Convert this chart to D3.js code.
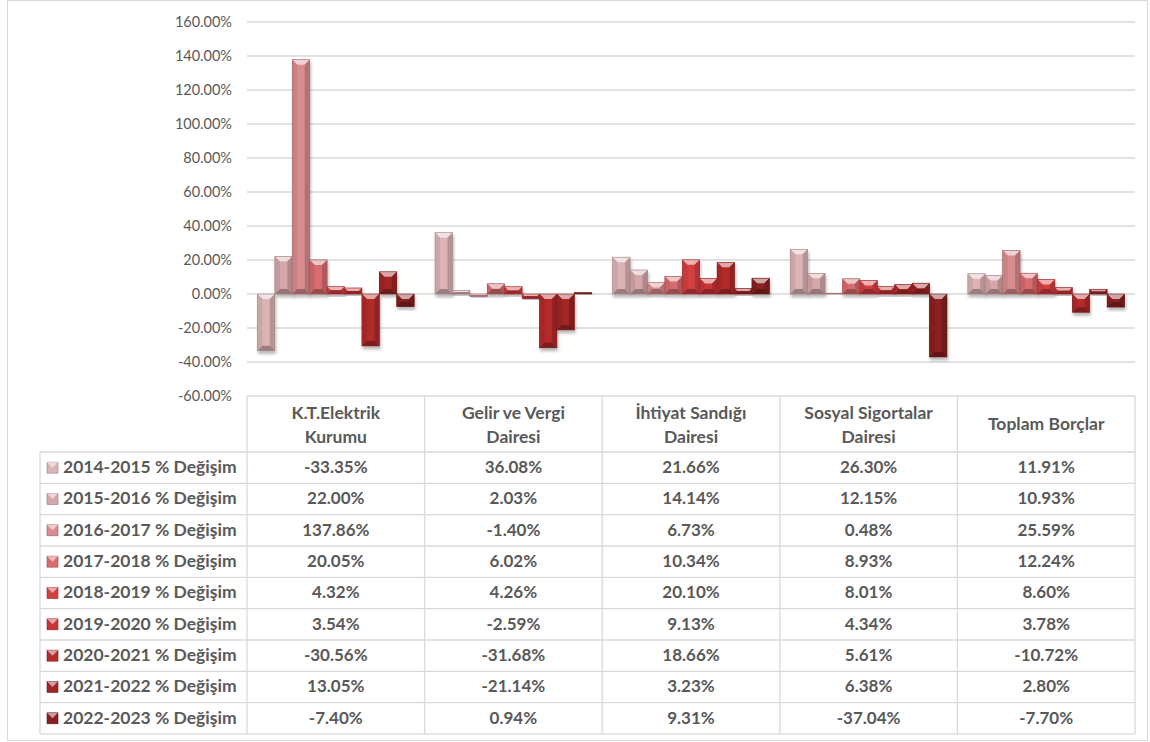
<!DOCTYPE html>
<html>
<head>
<meta charset="utf-8">
<script src="https://cdn.jsdelivr.net/npm/d3@7"></script>
<style>
  body { margin: 0; background: #fff; }
  svg text { font-family: Lato, "Open Sans", sans-serif; fill: #595959; }
</style>
</head>
<body>
<div id="chart"></div>
<script>
const categories = ["K.T.Elektrik Kurumu", "Gelir ve Vergi Dairesi", "İhtiyat Sandığı Dairesi", "Sosyal Sigortalar Dairesi", "Toplam Borçlar"]
const headerLines = [["K.T.Elektrik", "Kurumu"], ["Gelir ve Vergi", "Dairesi"], ["İhtiyat Sandığı", "Dairesi"], ["Sosyal Sigortalar", "Dairesi"], ["Toplam Borçlar"]]
const seriesNames = ["2014-2015 % Değişim", "2015-2016 % Değişim", "2016-2017 % Değişim", "2017-2018 % Değişim", "2018-2019 % Değişim", "2019-2020 % Değişim", "2020-2021 % Değişim", "2021-2022 % Değişim", "2022-2023 % Değişim"]
const seriesColors = ["#dcb4b6", "#d6a7aa", "#d98c90", "#d86c6f", "#d43f40", "#c93435", "#b32b2b", "#a22525", "#8a2020"]

// values per series, one per category (percent)
const v2015 = [-33.35, 36.08, 21.66, 26.30, 11.91]
const v2016 = [22.00, 2.03, 14.14, 12.15, 10.93]
const v2017 = [137.86, -1.40, 6.73, 0.48, 25.59]
const v2018 = [20.05, 6.02, 10.34, 8.93, 12.24]
const v2019 = [4.32, 4.26, 20.10, 8.01, 8.60]
const v2020 = [3.54, -2.59, 9.13, 4.34, 3.78]
const v2021 = [-30.56, -31.68, 18.66, 5.61, -10.72]
const v2022 = [13.05, -21.14, 3.23, 6.38, 2.80]
const v2023 = [-7.40, 0.94, 9.31, -37.04, -7.70]
const seriesValues = [v2015, v2016, v2017, v2018, v2019, v2020, v2021, v2022, v2023]
const yTicks = [-60, -40, -20, 0, 20, 40, 60, 80, 100, 120, 140, 160]

const W = 1150, H = 742
const plotLeft = 247, plotRight = 1135, plotTop = 22, plotBottom = 396
const tableLeft = 40, headerBottom = 452, rowH = 31.33

const pct = v => d3.format(".2f")(v).replace("−", "-") + "%"

const svg = d3.select("#chart").append("svg")
  .attr("width", W).attr("height", H)

const defs = svg.append("defs")
defs.append("filter").attr("id", "shadow")
  .attr("x", "-30%").attr("y", "-30%").attr("width", "160%").attr("height", "160%")
  .append("feDropShadow")
  .attr("dx", 1).attr("dy", 3).attr("stdDeviation", 1.6)
  .attr("flood-color", "#000").attr("flood-opacity", 0.28)

// outer border
svg.append("rect")
  .attr("x", 7.5).attr("y", 0.5).attr("width", 1140).attr("height", 740)
  .attr("fill", "none").attr("stroke", "#d9d9d9").attr("stroke-width", 1)

const x0 = d3.scaleBand().domain(categories).range([plotLeft, plotRight]).padding(0)
const x1 = d3.scaleBand().domain(d3.range(seriesNames.length))
  .range([0, x0.bandwidth()]).paddingInner(0).paddingOuter(0.6)
const y = d3.scaleLinear().domain([-60, 160]).range([plotBottom, plotTop])

// gridlines
svg.append("g").selectAll("line")
  .data(yTicks)
  .join("line")
  .attr("x1", plotLeft).attr("x2", plotRight)
  .attr("y1", d => y(d)).attr("y2", d => y(d))
  .attr("stroke", "#d9d9d9").attr("stroke-width", 1.3)

// y axis labels
svg.append("g").selectAll("text")
  .data(yTicks)
  .join("text")
  .attr("x", 232).attr("y", d => y(d) + 5)
  .attr("text-anchor", "end")
  .attr("font-size", 14.5)
  .text(pct)

// bars with bevel
const bars = []
seriesValues.forEach((vals, s) => vals.forEach((v, c) => bars.push({ s, c, v })))

const shade = (col, k) => k > 0 ? d3.interpolateRgb(col, "#fff")(k) : d3.interpolateRgb(col, "#000")(-k)
const poly = pts => pts.map(p => p.join(",")).join(" ")

svg.append("g").selectAll("g")
  .data(bars)
  .join("g")
  .attr("filter", "url(#shadow)")
  .each(function (d) {
    const g = d3.select(this)
    const bx = x0(categories[d.c]) + x1(d.s)
    const w = x1.bandwidth()
    const yT = y(Math.max(0, d.v)), yB = y(Math.min(0, d.v))
    const h = Math.max(yB - yT, 0.8)
    const col = seriesColors[d.s]
    const dd = Math.min(5, w / 2, h / 2)
    g.append("rect").attr("x", bx).attr("y", yT).attr("width", w).attr("height", h).attr("fill", col)
    // top facet
    g.append("polygon").attr("points", poly([[bx, yT], [bx + w, yT], [bx + w - dd, yT + dd], [bx + dd, yT + dd]]))
      .attr("fill", shade(col, 0.6))
    // left facet
    g.append("polygon").attr("points", poly([[bx, yT], [bx + dd, yT + dd], [bx + dd, yT + h - dd], [bx, yT + h]]))
      .attr("fill", shade(col, -0.08))
    // right facet
    g.append("polygon").attr("points", poly([[bx + w, yT], [bx + w - dd, yT + dd], [bx + w - dd, yT + h - dd], [bx + w, yT + h]]))
      .attr("fill", shade(col, -0.18))
    // bottom facet
    g.append("polygon").attr("points", poly([[bx, yT + h], [bx + w, yT + h], [bx + w - dd, yT + h - dd], [bx + dd, yT + h - dd]]))
      .attr("fill", shade(col, -0.3))
    g.append("rect").attr("x", bx).attr("y", yT).attr("width", w).attr("height", h)
      .attr("fill", "none").attr("stroke", shade(col, -0.25)).attr("stroke-width", 0.6)
  })

// data table
const table = svg.append("g")
const lineCol = "#d9d9d9"
const tableBottom = headerBottom + rowH * seriesNames.length

categories.forEach(c => {
  table.append("line").attr("x1", x0(c)).attr("x2", x0(c)).attr("y1", plotBottom).attr("y2", tableBottom)
    .attr("stroke", lineCol).attr("stroke-width", 1.3)
})
table.append("line").attr("x1", plotRight).attr("x2", plotRight).attr("y1", plotBottom).attr("y2", tableBottom)
  .attr("stroke", lineCol).attr("stroke-width", 1.3)
table.append("line").attr("x1", tableLeft).attr("x2", tableLeft).attr("y1", headerBottom).attr("y2", tableBottom)
  .attr("stroke", lineCol).attr("stroke-width", 1.3)
d3.range(seriesNames.length + 1).forEach(i => {
  const yy = headerBottom + i * rowH
  table.append("line").attr("x1", tableLeft).attr("x2", plotRight).attr("y1", yy).attr("y2", yy)
    .attr("stroke", lineCol).attr("stroke-width", 1.3)
})

// headers
categories.forEach((c, i) => {
  const lines = headerLines[i]
  const cx = x0(c) + x0.bandwidth() / 2
  const t = table.append("text").attr("text-anchor", "middle").attr("font-size", 17.5).attr("font-weight", "bold")
  lines.forEach((ln, j) => {
    const yy = lines.length === 1 ? 430 : 419 + j * 24
    t.append("tspan").attr("x", cx).attr("y", yy).text(ln)
  })
})

// rows
seriesNames.forEach((name, s) => {
  const ry = headerBottom + s * rowH
  const col = seriesColors[s]
  const my = ry + rowH / 2 - 5.5
  table.append("rect").attr("x", 47).attr("y", my).attr("width", 11).attr("height", 11)
    .attr("fill", col).attr("stroke", shade(col, -0.3)).attr("stroke-width", 0.6)
  table.append("polygon")
    .attr("points", poly([[47, my], [58, my], [52.5, my + 5.5]]))
    .attr("fill", shade(col, 0.55))
  table.append("text").attr("x", 63).attr("y", ry + rowH / 2 + 5.5)
    .attr("font-size", 17.5).attr("font-weight", "bold").text(name)
  seriesValues[s].forEach((v, c) => {
    table.append("text").attr("x", x0(categories[c]) + x0.bandwidth() / 2).attr("y", ry + rowH / 2 + 5.5)
      .attr("text-anchor", "middle").attr("font-size", 17).attr("font-weight", "bold")
      .text(pct(v))
  })
})
</script>
</body>
</html>
